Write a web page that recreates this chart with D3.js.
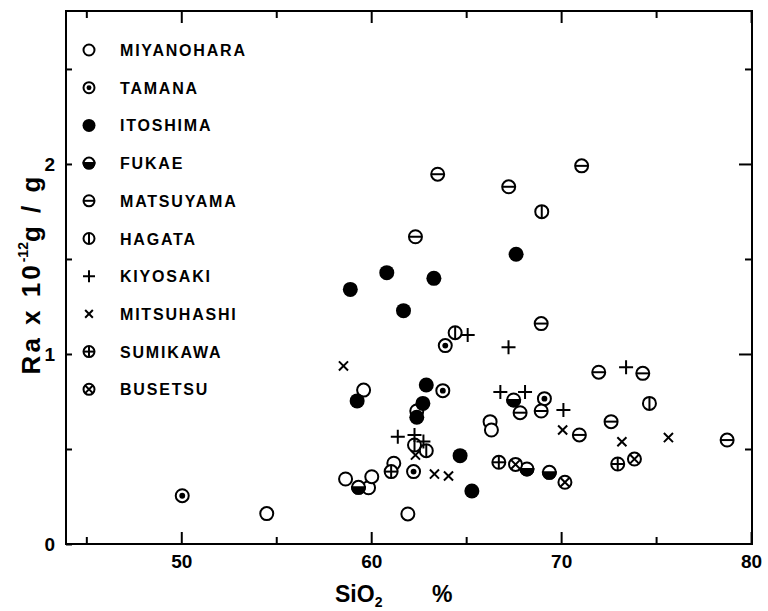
<!DOCTYPE html>
<html>
<head>
<meta charset="utf-8">
<script src="https://cdn.jsdelivr.net/npm/d3@7"></script>
<style>
  body { margin: 0; background: #fff; }
  text { font-family: "Liberation Sans", "DejaVu Sans", sans-serif; font-weight: bold; fill: #000; }
</style>
</head>
<body>
<div id="chart"></div>
<script>
// sample sites, in legend order, with their marker style
var sites = ["MIYANOHARA", "TAMANA", "ITOSHIMA", "FUKAE", "MATSUYAMA",
             "HAGATA", "KIYOSAKI", "MITSUHASHI", "SUMIKAWA", "BUSETSU"];
var kinds = ["open", "dot", "filled", "half", "hbar", "vbar", "plus", "cross", "oplus", "otimes"];

// [SiO2 %, Ra x 10^-12 g/g]
var miyanohara = [[54.5, 0.16], [59.6, 0.81], [62.4, 0.70], [66.26, 0.644], [66.33, 0.60],
                  [61.19, 0.425], [58.65, 0.342], [59.86, 0.296], [60.03, 0.354], [61.93, 0.158]];
var tamana     = [[50.05, 0.254], [63.9, 1.044], [63.77, 0.807], [69.12, 0.765], [62.23, 0.381]];
var itoshima   = [[67.63, 1.525], [60.82, 1.428], [63.3, 1.398], [58.9, 1.34], [61.7, 1.228],
                  [59.26, 0.753], [62.9, 0.837], [62.72, 0.74], [62.4, 0.667], [64.68, 0.465],
                  [65.3, 0.279]];
var fukae      = [[67.5, 0.758], [68.2, 0.395], [69.38, 0.377], [59.33, 0.298]];
var matsuyama  = [[63.5, 1.946], [67.24, 1.88], [71.08, 1.99], [62.33, 1.617], [68.95, 1.16],
                  [67.84, 0.691], [68.95, 0.70], [70.96, 0.574], [71.98, 0.904], [74.3, 0.898],
                  [72.63, 0.644], [78.74, 0.547]];
var hagata     = [[68.98, 1.749], [64.42, 1.112], [62.28, 0.521], [62.9, 0.491], [74.65, 0.74]];
var kiyosaki   = [[65.08, 1.10], [67.23, 1.035], [66.8, 0.80], [68.1, 0.80], [70.12, 0.705],
                  [61.4, 0.565], [62.28, 0.574], [62.75, 0.54], [73.42, 0.93]];
var mitsuhashi = [[58.54, 0.937], [70.08, 0.60], [62.33, 0.468], [63.33, 0.368], [64.07, 0.358],
                  [73.2, 0.538], [75.65, 0.56]];
var sumikawa   = [[61.05, 0.381], [66.72, 0.43], [72.98, 0.421]];
var busetsu    = [[67.6, 0.419], [70.2, 0.325], [73.86, 0.447]];
var seriesData = [miyanohara, tamana, itoshima, fukae, matsuyama,
                  hagata, kiyosaki, mitsuhashi, sumikawa, busetsu];

var xMajor = [50, 60, 70, 80];
var xMinor = [45, 55, 65, 75];
var yMajor = [0, 1, 2];
var yMinor = [0.5, 1.5, 2.5];

(function() {

    var W = 768, H = 611;
    var mLeft = 66, mRight = 752, mTop = 11, mBottom = 544;

    var svg = d3.select("#chart").append("svg")
        .attr("width", W)
        .attr("height", H);

    var x = d3.scaleLinear().domain([43.93, 80.05]).range([mLeft, mRight]);
    var y = d3.scaleLinear().domain([0, 2.805]).range([mBottom, mTop]);

    // ticks point inward, drawn with d3 axes
    function tickAxis(axisFn, scale, vals, size, tx, ty, labels) {
        var ax = axisFn(scale).tickValues(vals).tickSizeInner(-size).tickSizeOuter(0);
        if (labels) ax.tickPadding(11).tickFormat(d3.format("d"));
        else ax.tickFormat("");
        var g = svg.append("g").attr("transform", "translate(" + tx + "," + ty + ")").call(ax);
        g.select(".domain").remove();
        g.selectAll("line").attr("stroke", "#000").attr("stroke-width", 2);
        return g;
    }

    var gx = tickAxis(d3.axisBottom, x, xMajor, 12, 0, mBottom, true);
    gx.selectAll("text").attr("font-size", 19).attr("font-family", "'DejaVu Sans', sans-serif");
    tickAxis(d3.axisBottom, x, xMinor, 7, 0, mBottom, false);
    tickAxis(d3.axisTop, x, xMajor, 12, 0, mTop, false);
    tickAxis(d3.axisTop, x, xMinor, 7, 0, mTop, false);

    var gy = tickAxis(d3.axisLeft, y, yMajor, 6, mLeft, 0, true);
    gy.selectAll("text").attr("font-size", 19).attr("font-family", "'DejaVu Sans', sans-serif");
    tickAxis(d3.axisLeft, y, yMinor, 6, mLeft, 0, false);
    tickAxis(d3.axisRight, y, [1, 2], 13, mRight, 0, false);
    tickAxis(d3.axisRight, y, yMinor, 7, mRight, 0, false);

    // frame
    svg.append("rect")
        .attr("x", mLeft).attr("y", mTop)
        .attr("width", mRight - mLeft).attr("height", mBottom - mTop)
        .attr("fill", "none").attr("stroke", "#000").attr("stroke-width", 2);

    // marker drawing
    function drawMarker(g, kind, r) {
        var sw = 2;
        if (kind === "plus" || kind === "cross") {
            var a = kind === "plus" ? r + 0.5 : r * 0.7;
            var p = kind === "plus"
                ? "M" + (-a) + ",0H" + a + "M0," + (-a) + "V" + a
                : "M" + (-a) + "," + (-a) + "L" + a + "," + a + "M" + (-a) + "," + a + "L" + a + "," + (-a);
            g.append("path").attr("d", p).attr("stroke", "#000").attr("stroke-width", sw).attr("fill", "none");
            return;
        }
        if (kind === "filled") {
            g.append("circle").attr("r", r + 1).attr("fill", "#000");
            return;
        }
        g.append("circle").attr("r", r).attr("fill", "#fff").attr("stroke", "#000").attr("stroke-width", sw);
        if (kind === "dot") {
            g.append("circle").attr("r", r * 0.45).attr("fill", "#000");
        } else if (kind === "half") {
            g.append("path")
                .attr("d", "M" + (-r) + ",0A" + r + "," + r + " 0 0 0 " + r + ",0Z")
                .attr("fill", "#000").attr("stroke", "#000").attr("stroke-width", sw);
        } else if (kind === "hbar" || kind === "oplus") {
            g.append("path").attr("d", "M" + (-r) + ",0H" + r).attr("stroke", "#000").attr("stroke-width", sw);
        }
        if (kind === "vbar" || kind === "oplus") {
            g.append("path").attr("d", "M0," + (-r) + "V" + r).attr("stroke", "#000").attr("stroke-width", sw);
        }
        if (kind === "otimes") {
            var b = r * 0.7;
            g.append("path")
                .attr("d", "M" + (-b) + "," + (-b) + "L" + b + "," + b + "M" + (-b) + "," + b + "L" + b + "," + (-b))
                .attr("stroke", "#000").attr("stroke-width", sw);
        }
    }

    // points
    seriesData.forEach(function(pts, i) {
        svg.append("g").selectAll("g")
            .data(pts)
            .enter()
            .append("g")
            .attr("transform", function(d) { return "translate(" + x(d[0]) + "," + y(d[1]) + ")"; })
            .each(function() { drawMarker(d3.select(this), kinds[i], 6.5); });
    });

    // legend
    var legend = svg.append("g");
    sites.forEach(function(name, i) {
        var ly = 50 + i * 37.7;
        var g = legend.append("g").attr("transform", "translate(89," + ly + ")");
        drawMarker(g, kinds[i], 5.5);
        legend.append("text")
            .attr("x", 120).attr("y", ly + 6)
            .attr("font-size", 16)
            .attr("letter-spacing", "1.8px")
            .text(name);
    });

    // axis titles
    var yt = svg.append("text")
        .attr("transform", "translate(40,274) rotate(-90)")
        .attr("text-anchor", "middle")
        .attr("font-size", 26)
        .attr("font-family", "'DejaVu Sans', sans-serif")
        .attr("letter-spacing", "3px");
    yt.append("tspan").text("Ra x 10");
    yt.append("tspan").attr("font-size", 14).attr("dy", -12).attr("letter-spacing", "0px").text("-12");
    yt.append("tspan").attr("dy", 12).text("g / g");

    var xt = svg.append("text")
        .attr("x", 335).attr("y", 602)
        .attr("font-size", 23)
        .attr("font-family", "'DejaVu Sans', sans-serif");
    xt.append("tspan").text("SiO");
    xt.append("tspan").attr("font-size", 14).attr("dy", 5).text("2");
    svg.append("text")
        .attr("x", 432).attr("y", 602)
        .attr("font-size", 23)
        .attr("font-family", "'DejaVu Sans', sans-serif")
        .text("%");

})();
</script>
</body>
</html>
